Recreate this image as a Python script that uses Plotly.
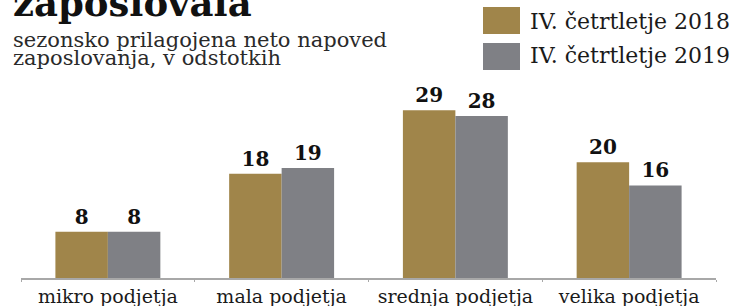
import plotly.graph_objects as go

categories = ["mikro podjetja", "mala podjetja", "srednja podjetja", "velika podjetja"]
series_names = ["IV. četrtletje 2018", "IV. četrtletje 2019"]
values_2018 = [8, 18, 29, 20]
values_2019 = [8, 19, 28, 16]
colors = ["#A0854A", "#7F8085"]

W, H = 735, 306
ML, MR, MT, MB = 21, 19, 87, 28
plot_h = H - MT - MB

def py(pix):
    # pixel y from top -> paper coords
    return (H - MB - pix) / plot_h

def px(pix):
    return (pix - ML) / (W - ML - MR)

fig = go.Figure()
for name, vals, col in zip(series_names, [values_2018, values_2019], colors):
    fig.add_trace(go.Bar(
        x=categories, y=vals, name=name, marker=dict(color=col, line=dict(width=0)),
        text=[str(v) for v in vals], textposition="outside", cliponaxis=False,
        textfont=dict(family="DejaVu Serif", size=20, color="#111111", weight="bold"),
        showlegend=False, hoverinfo="skip",
    ))

serif = "DejaVu Serif"
fig.update_layout(
    width=W, height=H,
    margin=dict(l=ML, r=MR, t=MT, b=MB, pad=0, autoexpand=False),
    paper_bgcolor="white", plot_bgcolor="white",
    barmode="group", bargap=0.396, bargroupgap=0,
    xaxis=dict(showline=True, linecolor="#a8a8a8", linewidth=2, ticks="outside",
               tickson="boundaries", ticklen=2, tickcolor="#a8a8a8", automargin=False,
               tickfont=dict(family=serif, size=19, color="#1a1a1a"), showgrid=False),
    yaxis=dict(range=[0, 33], visible=False, showgrid=False, automargin=False),
)

def center(baseline, fs):
    return baseline - 0.35 * fs

annotations = [
    dict(text="<b>zaposlovala</b>", x=px(11), y=py(center(16, 37)), xanchor="left", yanchor="middle",
         font=dict(family=serif, size=37, color="#111111")),
    dict(text="sezonsko prilagojena neto napoved", x=px(11), y=py(center(47, 21)), xanchor="left",
         yanchor="middle", font=dict(family=serif, size=21, color="#2a2a2a")),
    dict(text="zaposlovanja, v odstotkih", x=px(11), y=py(center(65, 21)), xanchor="left",
         yanchor="middle", font=dict(family=serif, size=21, color="#2a2a2a")),
]
shapes = []
sq_tops = [7, 43]
baselines = [29, 63]
for name, col, top, bl in zip(series_names, colors, sq_tops, baselines):
    shapes.append(dict(type="rect", xref="paper", yref="paper",
                       x0=px(483), x1=px(520), y0=py(top), y1=py(top + 27),
                       fillcolor=col, line=dict(width=0)))
    annotations.append(dict(text=name, x=px(528), y=py(center(bl, 22)), xanchor="left",
                            yanchor="middle", font=dict(family=serif, size=22, color="#1a1a1a")))
for a in annotations:
    a.update(xref="paper", yref="paper", showarrow=False)
fig.update_layout(annotations=annotations, shapes=shapes)

fig.write_html("out.html", config={"displayModeBar": False, "staticPlot": True},
               post_script="document.body.style.margin='0';document.body.style.overflow='hidden';")
